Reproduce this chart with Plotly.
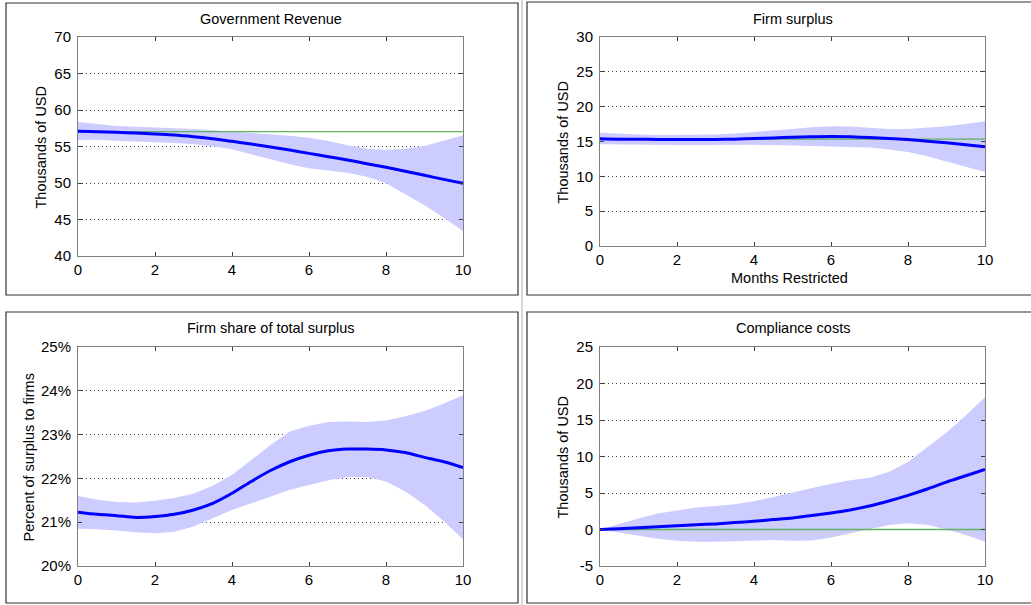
import plotly.graph_objects as go

# ---- data -------------------------------------------------------------
months = [0, 0.5, 1, 1.5, 2, 2.5, 3, 3.5, 4, 4.5, 5, 5.5, 6, 6.5, 7, 7.5, 8, 8.5, 9, 9.5, 10]
month_ticks = [0, 2, 4, 6, 8, 10]

# Government revenue (thousands of USD)
rev_mean = [57.08, 57.03, 56.94, 56.85, 56.71, 56.58, 56.35, 56.07, 55.71, 55.34, 54.93,
            54.52, 54.06, 53.61, 53.15, 52.65, 52.15, 51.60, 51.05, 50.50, 49.95]
rev_upper = [58.36, 58.04, 57.81, 57.72, 57.63, 57.53, 57.40, 57.21, 57.03, 56.89, 56.71,
             56.48, 56.21, 55.75, 55.16, 54.70, 54.52, 54.70, 55.07, 55.75, 56.53]
rev_lower = [55.89, 55.94, 55.80, 55.71, 55.62, 55.48, 55.30, 55.02, 54.61, 53.93, 53.24,
             52.56, 52.01, 51.74, 51.42, 50.87, 49.95, 48.45, 46.94, 45.25, 43.42]
rev_base = 57.05
rev_ticks = [40, 45, 50, 55, 60, 65, 70]

# Firm surplus (thousands of USD)
fs_mean = [15.38, 15.33, 15.33, 15.29, 15.29, 15.29, 15.29, 15.33, 15.43, 15.52, 15.62,
           15.67, 15.71, 15.67, 15.57, 15.43, 15.29, 15.05, 14.81, 14.52, 14.24]
fs_upper = [16.24, 16.10, 16.00, 15.95, 15.95, 15.95, 16.00, 16.14, 16.33, 16.57, 16.81,
            17.05, 17.19, 17.14, 16.95, 16.81, 16.81, 16.95, 17.19, 17.52, 17.90]
fs_lower = [14.62, 14.57, 14.52, 14.48, 14.48, 14.48, 14.52, 14.52, 14.52, 14.48, 14.43,
            14.38, 14.33, 14.29, 14.14, 13.86, 13.48, 12.90, 12.19, 11.38, 10.62]
fs_base = 15.33
fs_ticks = [0, 5, 10, 15, 20, 25, 30]

# Firm share of total surplus (percent)
sh_mean = [21.23, 21.18, 21.15, 21.11, 21.13, 21.18, 21.28, 21.43, 21.66, 21.93, 22.18,
           22.38, 22.53, 22.63, 22.67, 22.67, 22.65, 22.59, 22.48, 22.38, 22.25]
sh_upper = [21.60, 21.51, 21.46, 21.45, 21.49, 21.55, 21.65, 21.83, 22.08, 22.42, 22.76,
            23.07, 23.20, 23.29, 23.30, 23.29, 23.32, 23.42, 23.54, 23.71, 23.90]
sh_lower = [20.85, 20.84, 20.81, 20.77, 20.75, 20.78, 20.90, 21.09, 21.28, 21.43, 21.59,
            21.74, 21.85, 21.96, 22.03, 22.03, 21.93, 21.70, 21.40, 21.02, 20.61]
sh_ticks = [20, 21, 22, 23, 24, 25]

# Compliance costs (thousands of USD)
cc_mean = [0.00, 0.09, 0.23, 0.36, 0.50, 0.64, 0.77, 0.95, 1.14, 1.36, 1.59,
           1.91, 2.27, 2.68, 3.23, 3.91, 4.68, 5.55, 6.50, 7.36, 8.23]
cc_upper = [0.00, 0.80, 1.50, 2.20, 2.64, 3.00, 3.23, 3.45, 3.86, 4.45, 5.00,
            5.68, 6.27, 6.73, 7.10, 7.86, 9.23, 11.27, 13.30, 15.60, 18.10]
cc_lower = [0.00, -0.45, -0.90, -1.27, -1.55, -1.68, -1.68, -1.60, -1.45, -1.45, -1.55,
            -1.50, -1.10, -0.50, 0.10, 0.60, 0.85, 0.65, 0.00, -0.77, -1.68]
cc_base = 0.0
cc_ticks = [-5, 0, 5, 10, 15, 20, 25]

panel_titles = ["Government Revenue", "Firm surplus", "Firm share of total surplus", "Compliance costs"]
y_titles = ["Thousands of USD", "Thousands of USD", "Percent of surplus to firms", "Thousands of USD"]
x_title = "Months Restricted"

# ---- layout geometry (pixels) ----------------------------------------
W, H = 1031, 605
FONT = "Liberation Sans, Arial, Helvetica, sans-serif"
BAND = "rgb(204,204,255)"
MEAN = "rgb(0,0,255)"
BASE = "rgb(95,178,95)"


def px(x):
    return x / W


def py(y):
    return 1 - y / H


# plot areas: (left, right, top, bottom)
areas = [(78, 463, 37, 256), (600, 985, 37, 246), (78, 463, 347, 566), (600, 985, 347, 566)]
# panel frames: (left, right, top, bottom)
frames = [(6, 518, 3, 295), (527, 1045, 2, 295), (6, 518, 312, 603), (527, 1045, 312, 603)]

series = [
    (rev_mean, rev_upper, rev_lower, rev_base, rev_ticks, ""),
    (fs_mean, fs_upper, fs_lower, fs_base, fs_ticks, ""),
    (sh_mean, sh_upper, sh_lower, None, sh_ticks, "%"),
    (cc_mean, cc_upper, cc_lower, cc_base, cc_ticks, ""),
]

fig = go.Figure()

for i, (mean, upper, lower, base, yt, suffix) in enumerate(series):
    n = "" if i == 0 else str(i + 1)
    xa, ya = "x" + n, "y" + n
    fig.add_trace(go.Scatter(x=months, y=lower, mode="lines", line=dict(width=0, color=BAND),
                             xaxis=xa, yaxis=ya, showlegend=False, hoverinfo="skip"))
    fig.add_trace(go.Scatter(x=months, y=upper, mode="lines", line=dict(width=0, color=BAND),
                             fill="tonexty", fillcolor=BAND,
                             xaxis=xa, yaxis=ya, showlegend=False, hoverinfo="skip"))
    if base is not None:
        fig.add_trace(go.Scatter(x=[months[0], months[-1]], y=[base, base], mode="lines",
                                 line=dict(width=1.3, color=BASE),
                                 xaxis=xa, yaxis=ya, showlegend=False))
    fig.add_trace(go.Scatter(x=months, y=mean, mode="lines",
                             line=dict(width=3, color=MEAN, shape="spline", smoothing=0.8),
                             xaxis=xa, yaxis=ya, showlegend=False))

    l, r, t, b = areas[i]
    common = dict(showline=True, linecolor="#808080", linewidth=1, mirror="ticks",
                  ticks="inside", ticklen=4, tickcolor="#404040", tickwidth=1,
                  tickfont=dict(family=FONT, size=15, color="black"), zeroline=False,
                  automargin=False)
    fig.layout["xaxis" + n] = dict(domain=[px(l), px(r)], range=[month_ticks[0], month_ticks[-1]],
                                   tickmode="array", tickvals=month_ticks,
                                   ticktext=[str(v) for v in month_ticks],
                                   showgrid=False, anchor=ya, **common)
    fig.layout["yaxis" + n] = dict(domain=[py(b), py(t)], range=[yt[0], yt[-1]],
                                   tickmode="array", tickvals=yt,
                                   ticktext=[f"{v}{suffix}" for v in yt],
                                   showgrid=True, gridcolor="#404040",
                                   griddash="1px,3px", gridwidth=1, anchor=xa,
                                   ticklabelstandoff=3, **common)

annotations = []
for i, (l, r, t, b) in enumerate(areas):
    ty = 19 if i < 2 else 328
    annotations.append(dict(text=panel_titles[i], x=px((l + r) / 2), y=py(ty), xref="paper",
                            yref="paper", showarrow=False, xanchor="center", yanchor="middle",
                            font=dict(family=FONT, size=14.5, color="black")))
    tx = 41 if i != 2 else 28
    tx = 562 if i in (1, 3) else tx
    annotations.append(dict(text=y_titles[i], x=px(tx), y=py((t + b) / 2 + 1), xref="paper",
                            yref="paper", showarrow=False, textangle=-90, xanchor="center",
                            yanchor="middle", font=dict(family=FONT, size=14.5, color="black")))
annotations.append(dict(text=x_title, x=px(789), y=py(278), xref="paper", yref="paper",
                        showarrow=False, xanchor="center", yanchor="middle",
                        font=dict(family=FONT, size=14.5, color="black")))

shapes = []
for (l, r, t, b) in frames:
    shapes.append(dict(type="rect", xref="paper", yref="paper", x0=px(l), x1=px(r),
                       y0=py(b), y1=py(t), line=dict(color="#333333", width=1.2)))
shapes.append(dict(type="line", xref="paper", yref="paper", x0=px(522), x1=px(522),
                   y0=0, y1=1, line=dict(color="#b0b0b0", width=1)))

fig.update_layout(width=W, height=H, autosize=False,
                  margin=dict(l=0, r=0, t=0, b=0, pad=0, autoexpand=False),
                  paper_bgcolor="white", plot_bgcolor="white",
                  annotations=annotations, shapes=shapes, showlegend=False)

# the page body carries a default margin; remove it so the figure fills the window
fig.write_html("out.html",
               post_script="document.body.style.margin='0';document.body.style.overflow='hidden';")
